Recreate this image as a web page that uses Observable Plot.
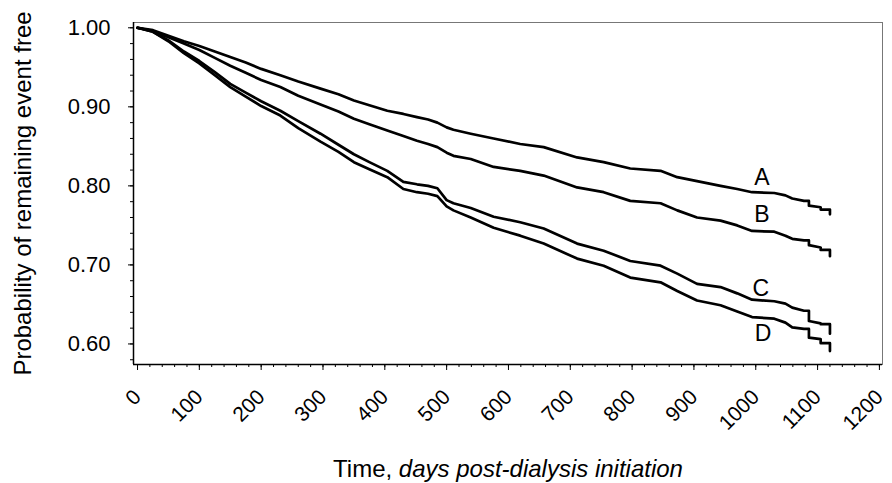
<!DOCTYPE html>
<html>
<head>
<meta charset="utf-8">
<script src="https://cdn.jsdelivr.net/npm/d3@7"></script>
<script src="https://cdn.jsdelivr.net/npm/@observablehq/plot@0.6"></script>
<style>
  html, body { margin: 0; padding: 0; background: #ffffff; }
  #chart { width: 892px; height: 483px; }
</style>
</head>
<body>
<div id="chart"></div>
<script>
// ---- data ----
const seriesNames = ["A", "B", "C", "D"];

const days = [0, 25, 50, 75, 100, 125, 150, 175, 200, 231, 260, 296, 325, 350, 375, 404, 430, 452, 470,
  485, 500, 511, 539, 576, 619, 657, 711, 754, 797, 846, 873, 905, 943, 970, 994, 1030, 1048, 1059, 1078,
  1086, 1086, 1105, 1105, 1120, 1120];

const survA = [1.000, 0.997, 0.990, 0.983, 0.977, 0.970, 0.963, 0.956, 0.948, 0.940, 0.932, 0.923, 0.916, 0.908, 0.902, 0.895, 0.891, 0.887, 0.884,
  0.880, 0.874, 0.871, 0.866, 0.860, 0.853, 0.849, 0.836, 0.830, 0.822, 0.819, 0.811, 0.806, 0.800, 0.796, 0.792, 0.791, 0.788, 0.784, 0.781,
  0.781, 0.775, 0.773, 0.770, 0.770, 0.764];

const survB = [1.000, 0.996, 0.988, 0.980, 0.972, 0.962, 0.952, 0.943, 0.934, 0.925, 0.914, 0.903, 0.894, 0.885, 0.878, 0.870, 0.863, 0.857, 0.853,
  0.849, 0.842, 0.838, 0.834, 0.824, 0.819, 0.813, 0.798, 0.792, 0.781, 0.778, 0.769, 0.760, 0.756, 0.750, 0.743, 0.742, 0.737, 0.733, 0.731,
  0.731, 0.725, 0.722, 0.719, 0.719, 0.711];

const survC = [1.000, 0.995, 0.984, 0.970, 0.958, 0.944, 0.929, 0.918, 0.907, 0.895, 0.882, 0.866, 0.852, 0.840, 0.830, 0.819, 0.805, 0.802, 0.800,
  0.797, 0.782, 0.778, 0.772, 0.761, 0.754, 0.746, 0.727, 0.718, 0.705, 0.699, 0.689, 0.676, 0.672, 0.664, 0.656, 0.654, 0.651, 0.646, 0.642,
  0.642, 0.629, 0.626, 0.625, 0.625, 0.613];

const survD = [1.000, 0.995, 0.983, 0.968, 0.955, 0.940, 0.925, 0.913, 0.901, 0.889, 0.873, 0.856, 0.843, 0.830, 0.821, 0.811, 0.796, 0.792, 0.790,
  0.787, 0.774, 0.769, 0.760, 0.747, 0.737, 0.727, 0.708, 0.699, 0.684, 0.678, 0.667, 0.655, 0.649, 0.641, 0.634, 0.632, 0.627, 0.621, 0.619,
  0.619, 0.608, 0.606, 0.601, 0.601, 0.591];

const labelDays = [1010, 1010, 1008, 1012];
const labelValues = [0.811, 0.764, 0.670, 0.613];

const xTicks = [0, 100, 200, 300, 400, 500, 600, 700, 800, 900, 1000, 1100, 1200];
const yTicks = [0.60, 0.70, 0.80, 0.90, 1.00];

const xTitle = "Time, days post-dialysis initiation";
const yTitle = "Probability of remaining event free";

// ---- build tables for the library ----
const survival = [survA, survB, survC, survD];
const rows = seriesNames.flatMap((s, i) => days.map((d, j) => ({series: s, day: d, p: survival[i][j]})));
const labels = seriesNames.map((s, i) => ({name: s, day: labelDays[i], p: labelValues[i]}));
const xMinor = d3.range(0, 1201, 20);
const yMinor = d3.range(0.58, 1.001, 0.02);

const xDomain = [-6.5, 1205];
const yDomain = [0.574, 1.0067];

const chart = Plot.plot({
  width: 892,
  height: 483,
  marginLeft: 133,
  marginRight: 10,
  marginTop: 22,
  marginBottom: 119,
  x: {domain: xDomain},
  y: {domain: yDomain},
  style: {fontFamily: "'Liberation Sans', Arial, Helvetica, sans-serif", color: "#000", background: "#fff"},
  marks: [
    Plot.frame({stroke: "#777", strokeWidth: 1}),
    Plot.ruleX([xDomain[0]], {stroke: "#000", strokeWidth: 1.5}),
    Plot.ruleY([yDomain[0]], {stroke: "#000", strokeWidth: 1.5}),
    Plot.axisY({ticks: yMinor, tickSize: 3, tickFormat: () => "", label: null, stroke: "#000"}),
    Plot.axisY({ticks: yTicks, tickSize: 5, tickPadding: 18, tickFormat: d3.format(".2f"), fontSize: 22, label: null, stroke: "#000"}),
    Plot.axisX({ticks: xMinor, tickSize: 3, tickFormat: () => "", label: null, stroke: "#000"}),
    Plot.axisX({ticks: xTicks, tickSize: 6, tickPadding: 23, tickRotate: -45, tickFormat: d => String(d), fontSize: 21, label: null, stroke: "#000"}),
    Plot.line(rows, {x: "day", y: "p", z: "series", stroke: "#000", strokeWidth: 2.7, curve: "linear"}),
    Plot.text(labels, {x: "day", y: "p", text: "name", fontSize: 23, fill: "#000"}),
    Plot.text([yTitle], {frameAnchor: "left", textAnchor: "middle", rotate: -90, dx: -110, fontSize: 24, fill: "#000"}),
    Plot.text([xTitle], {frameAnchor: "bottom", textAnchor: "middle", dy: 112, fontSize: 24, fill: "#000"})
  ]
});

// italic part of the x title
chart.querySelectorAll("text").forEach(t => {
  if (t.textContent === xTitle) {
    t.textContent = "";
    t.appendChild(document.createTextNode("Time, "));
    const ts = document.createElementNS("http://www.w3.org/2000/svg", "tspan");
    ts.setAttribute("font-style", "italic");
    ts.textContent = "days post-dialysis initiation";
    t.appendChild(ts);
  }
});

document.getElementById("chart").appendChild(chart);
</script>
</body>
</html>
